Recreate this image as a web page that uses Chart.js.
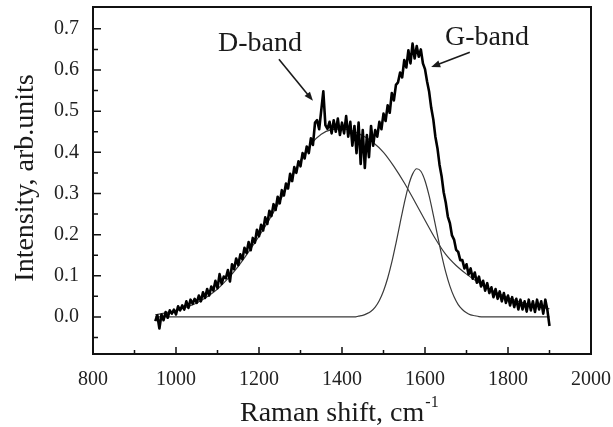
<!DOCTYPE html>
<html>
<head>
<meta charset="utf-8">
<script src="https://cdn.jsdelivr.net/npm/chart.js@4.4.0/dist/chart.umd.min.js"></script>
<style>
  html, body { margin: 0; padding: 0; background: #fff; }
  #wrap { width: 613px; height: 427px; }
</style>
</head>
<body>
<div id="wrap"><canvas id="raman" width="613" height="427"></canvas></div>
<script>
// measured spectrum (Raman shift, cm-1 / intensity, arb. units)
const shiftX = [
  950, 955, 960, 965, 970, 975, 980, 985, 990, 995,
  1000, 1005, 1010, 1015, 1020, 1025, 1030, 1035, 1040, 1045,
  1050, 1055, 1060, 1065, 1070, 1075, 1080, 1085, 1090, 1095,
  1100, 1105, 1110, 1115, 1120, 1125, 1130, 1135, 1140, 1145,
  1150, 1155, 1160, 1165, 1170, 1175, 1180, 1185, 1190, 1195,
  1200, 1205, 1210, 1215, 1220, 1225, 1230, 1235, 1240, 1245,
  1250, 1255, 1260, 1265, 1270, 1275, 1280, 1285, 1290, 1295,
  1300, 1305, 1310, 1315, 1320, 1325, 1330, 1335, 1340, 1345,
  1350, 1355, 1360, 1365, 1370, 1375, 1380, 1385, 1390, 1395,
  1400, 1405, 1410, 1415, 1420, 1425, 1430, 1435, 1440, 1445,
  1450, 1455, 1460, 1465, 1470, 1475, 1480, 1485, 1490, 1495,
  1500, 1505, 1510, 1515, 1520, 1525, 1530, 1535, 1540, 1545,
  1550, 1555, 1560, 1565, 1570, 1575, 1580, 1585, 1590, 1595,
  1600, 1605, 1610, 1615, 1620, 1625, 1630, 1635, 1640, 1645,
  1650, 1655, 1660, 1665, 1670, 1675, 1680, 1685, 1690, 1695,
  1700, 1705, 1710, 1715, 1720, 1725, 1730, 1735, 1740, 1745,
  1750, 1755, 1760, 1765, 1770, 1775, 1780, 1785, 1790, 1795,
  1800, 1805, 1810, 1815, 1820, 1825, 1830, 1835, 1840, 1845,
  1850, 1855, 1860, 1865, 1870, 1875, 1880, 1885, 1890, 1895,
  1900
];
const intensity = [
  -0.01, 0.004, -0.028, 0.006, -0.008, 0.012, -0.002, 0.016, 0.008, 0.018,
  0.006, 0.026, 0.016, 0.028, 0.018, 0.038, 0.022, 0.042, 0.032, 0.044,
  0.034, 0.052, 0.038, 0.06, 0.046, 0.068, 0.052, 0.074, 0.064, 0.088,
  0.07, 0.104, 0.08, 0.098, 0.094, 0.114, 0.086, 0.128, 0.116, 0.142,
  0.126, 0.152, 0.14, 0.168, 0.155, 0.182, 0.162, 0.192, 0.18, 0.212,
  0.196, 0.224, 0.21, 0.242, 0.226, 0.258, 0.245, 0.274, 0.26, 0.292,
  0.276, 0.308, 0.295, 0.324, 0.312, 0.348, 0.33, 0.364, 0.35, 0.378,
  0.366, 0.398, 0.385, 0.414, 0.398, 0.434, 0.418, 0.472, 0.478, 0.456,
  0.502, 0.548, 0.466, 0.457, 0.474, 0.446, 0.478, 0.45, 0.482, 0.442,
  0.472, 0.446, 0.488, 0.438, 0.474, 0.416, 0.464, 0.398, 0.472, 0.372,
  0.454, 0.362, 0.442, 0.388, 0.464, 0.416, 0.454, 0.438, 0.474, 0.456,
  0.494, 0.476, 0.514, 0.496, 0.544, 0.526, 0.564, 0.57, 0.594, 0.582,
  0.624, 0.606, 0.648, 0.616, 0.664, 0.628, 0.658, 0.632, 0.65, 0.616,
  0.602, 0.572, 0.547, 0.508, 0.48, 0.438, 0.41, 0.37, 0.342, 0.303,
  0.278, 0.244, 0.228, 0.198, 0.188, 0.163, 0.158, 0.138, 0.138, 0.118,
  0.128, 0.103, 0.118, 0.093, 0.108, 0.083, 0.098, 0.074, 0.088, 0.064,
  0.082, 0.058, 0.072, 0.048, 0.068, 0.044, 0.062, 0.038, 0.058, 0.034,
  0.052, 0.028, 0.048, 0.024, 0.044, 0.018, 0.042, 0.018, 0.038, 0.013,
  0.042, 0.016, 0.038, 0.012, 0.042, 0.018, 0.038, 0.008, 0.042, 0.016,
  -0.022
];

// fitted D-band component
const dFitX = [
  950, 975, 1000, 1025, 1050, 1075, 1100, 1125, 1150, 1175,
  1200, 1225, 1250, 1275, 1300, 1325, 1350, 1375, 1400, 1425,
  1450, 1475, 1500, 1525, 1550, 1575, 1600, 1625, 1650, 1675,
  1700, 1725, 1750, 1775, 1800, 1825, 1850, 1875, 1900
];
const dFit = [
  0.005, 0.01, 0.015, 0.024, 0.034, 0.049, 0.068, 0.093, 0.123, 0.158,
  0.196, 0.237, 0.281, 0.33, 0.38, 0.42, 0.444, 0.455, 0.457, 0.452,
  0.44, 0.424, 0.4, 0.366, 0.326, 0.281, 0.235, 0.19, 0.152, 0.125,
  0.104, 0.086, 0.071, 0.058, 0.047, 0.038, 0.031, 0.025, 0.02
];

// fitted G-band component
const gFitX = [
  950, 1430, 1440, 1450, 1460, 1470, 1480, 1490, 1500, 1510,
  1520, 1530, 1540, 1550, 1560, 1570, 1580, 1590, 1600, 1610,
  1620, 1630, 1640, 1650, 1660, 1670, 1680, 1690, 1700, 1710,
  1720, 1730, 1740, 1900
];
const gFit = [
  0, 0, 0.002, 0.004, 0.008, 0.014, 0.024, 0.04, 0.063, 0.094,
  0.133, 0.179, 0.228, 0.276, 0.318, 0.347, 0.36, 0.354, 0.331, 0.294,
  0.248, 0.199, 0.151, 0.109, 0.075, 0.049, 0.03, 0.018, 0.01, 0.005,
  0.003, 0.001, 0, 0
];

const xTicks = [800, 1000, 1200, 1400, 1600, 1800, 2000];
const xMinor = [900, 1100, 1300, 1500, 1700, 1900];
const yTicks = [0, 0.1, 0.2, 0.3, 0.4, 0.5, 0.6, 0.7];
const yMinor = [-0.05, 0.05, 0.15, 0.25, 0.35, 0.45, 0.55, 0.65];

const serif = 'Liberation Serif';

function pairs(xs, ys) {
  return xs.map((x, i) => ({ x: x, y: ys[i] }));
}

function arrow(ctx, x1, y1, x2, y2) {
  const a = Math.atan2(y2 - y1, x2 - x1);
  const len = 9, w = 3.5;
  ctx.beginPath();
  ctx.moveTo(x1, y1);
  ctx.lineTo(x2 - Math.cos(a) * len * 0.7, y2 - Math.sin(a) * len * 0.7);
  ctx.stroke();
  ctx.beginPath();
  ctx.moveTo(x2, y2);
  ctx.lineTo(x2 - Math.cos(a) * len - Math.sin(a) * w, y2 - Math.sin(a) * len + Math.cos(a) * w);
  ctx.lineTo(x2 - Math.cos(a) * len + Math.sin(a) * w, y2 - Math.sin(a) * len - Math.cos(a) * w);
  ctx.closePath();
  ctx.fill();
}

const frame = {
  id: 'frame',
  afterDraw(chart) {
    const ctx = chart.ctx;
    const a = chart.chartArea;
    const xs = chart.scales.x, ys = chart.scales.y;
    ctx.save();
    ctx.strokeStyle = '#111';
    ctx.fillStyle = '#111';
    ctx.lineWidth = 2;
    ctx.strokeRect(a.left, a.top, a.right - a.left, a.bottom - a.top);

    // inward ticks
    ctx.lineWidth = 1.5;
    ctx.beginPath();
    xTicks.forEach(v => { const p = xs.getPixelForValue(v); ctx.moveTo(p, a.bottom); ctx.lineTo(p, a.bottom - 7); });
    xMinor.forEach(v => { const p = xs.getPixelForValue(v); ctx.moveTo(p, a.bottom); ctx.lineTo(p, a.bottom - 4); });
    yTicks.forEach(v => { const p = ys.getPixelForValue(v); ctx.moveTo(a.left, p); ctx.lineTo(a.left + 8, p); });
    yMinor.forEach(v => { const p = ys.getPixelForValue(v); ctx.moveTo(a.left, p); ctx.lineTo(a.left + 5, p); });
    ctx.stroke();

    // annotations
    ctx.font = '28px ' + serif;
    ctx.fillStyle = '#1a1a1a';
    ctx.textBaseline = 'alphabetic';
    ctx.textAlign = 'left';
    ctx.fillText('D-band', xs.getPixelForValue(1101), ys.getPixelForValue(0.646));
    ctx.fillText('G-band', xs.getPixelForValue(1648), ys.getPixelForValue(0.66));
    ctx.lineWidth = 1.6;
    ctx.strokeStyle = '#1a1a1a';
    arrow(ctx, xs.getPixelForValue(1248), ys.getPixelForValue(0.626), xs.getPixelForValue(1330), ys.getPixelForValue(0.525));
    arrow(ctx, xs.getPixelForValue(1708), ys.getPixelForValue(0.643), xs.getPixelForValue(1615), ys.getPixelForValue(0.607));

    // axis titles
    ctx.font = '28px ' + serif;
    ctx.fillText('Raman shift, cm', 240, 421);
    const w = ctx.measureText('Raman shift, cm').width;
    ctx.font = '16px ' + serif;
    ctx.fillText('-1', 240 + w + 1, 407);
    ctx.translate(33, 178);
    ctx.rotate(-Math.PI / 2);
    ctx.font = '28px ' + serif;
    ctx.textAlign = 'center';
    ctx.fillText('Intensity, arb.units', 0, 0);
    ctx.restore();
  }
};

new Chart(document.getElementById('raman'), {
  type: 'line',
  data: {
    datasets: [
      {
        data: pairs(shiftX, intensity),
        borderColor: '#000',
        borderWidth: 2.6,
        borderJoinStyle: 'round',
        pointRadius: 0,
        tension: 0,
        order: 0
      },
      {
        data: pairs(dFitX, dFit),
        borderColor: '#3a3a3a',
        borderWidth: 1.2,
        pointRadius: 0,
        cubicInterpolationMode: 'monotone',
        order: 1
      },
      {
        data: pairs(gFitX, gFit),
        borderColor: '#3a3a3a',
        borderWidth: 1.2,
        pointRadius: 0,
        cubicInterpolationMode: 'monotone',
        order: 2
      }
    ]
  },
  options: {
    responsive: false,
    animation: false,
    layout: { padding: { top: 7, right: 22, left: 0, bottom: 0 } },
    plugins: { legend: { display: false }, tooltip: { enabled: false } },
    scales: {
      x: {
        type: 'linear',
        min: 800,
        max: 2000,
        grid: { display: false },
        border: { display: false },
        afterBuildTicks: s => { s.ticks = xTicks.map(v => ({ value: v })); },
        afterFit: s => { s.height = 73; s.paddingLeft = 0; s.paddingRight = 0; },
        ticks: {
          font: { family: serif, size: 20 },
          color: '#222',
          padding: 6,
          maxRotation: 0,
          autoSkip: false,
          callback: v => String(v)
        }
      },
      y: {
        type: 'linear',
        min: -0.09,
        max: 0.753,
        grid: { display: false },
        border: { display: false },
        afterBuildTicks: s => { s.ticks = yTicks.map(v => ({ value: v })); },
        afterFit: s => { s.width = 93; s.paddingTop = 0; s.paddingBottom = 0; },
        ticks: {
          font: { family: serif, size: 20 },
          color: '#222',
          padding: 6,
          autoSkip: false,
          callback: v => v.toFixed(1)
        }
      }
    }
  },
  plugins: [frame]
});
</script>
</body>
</html>
